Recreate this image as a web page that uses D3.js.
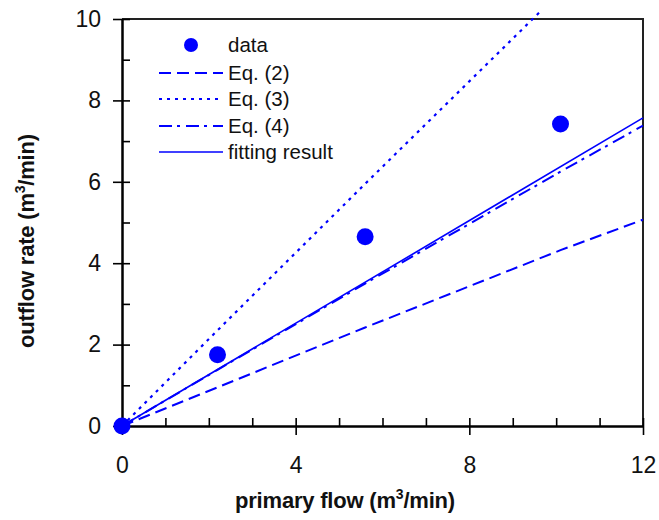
<!DOCTYPE html>
<html>
<head>
<meta charset="utf-8">
<script src="https://cdn.jsdelivr.net/npm/d3@7"></script>
<style>
  html, body { margin: 0; padding: 0; background: #fff; }
  svg { display: block; font-family: "Liberation Sans", Arial, sans-serif; }
</style>
</head>
<body>
<svg id="chart" width="659" height="520"></svg>
<script>
// Measured outflow vs. primary flow
const dataX = [0, 2.2, 5.6, 10.1];
const dataY = [0, 1.75, 4.65, 7.42];

// Model curves
const eq2X = [0, 2.2, 5.6, 10.1, 12];
const eq2Y = [0, 0.95, 2.42, 4.32, 5.07];
const eq3X = [0, 2.2, 5.6, 9.65];
const eq3Y = [0, 2.35, 5.95, 10.2];
const eq4X = [0, 2.2, 5.6, 10.1, 12];
const eq4Y = [0, 1.38, 3.5, 6.25, 7.38];
const fitX = [0, 12];
const fitY = [0, 7.57];

const xTicks = [0, 4, 8, 12];
const xMinor = [0, 1, 2, 3, 4, 5, 6, 7, 8, 9, 10, 11, 12];
const yTicks = [0, 2, 4, 6, 8, 10];
const yMinor = [0, 1, 2, 3, 4, 5, 6, 7, 8, 9, 10];

const legendLabels = ["data", "Eq. (2)", "Eq. (3)", "Eq. (4)", "fitting result"];

const blue = "#0000ff";
const svg = d3.select("#chart");
const L = 122, R = 643, T = 19, B = 426;

const x = d3.scaleLinear().domain([0, 12]).range([L, R]);
const y = d3.scaleLinear().domain([0, 10]).range([B, T]);

// Frame: top and right edges
svg.append("path")
  .attr("d", `M${L},${T}H${R}V${B}`)
  .attr("fill", "none").attr("stroke", "#222").attr("stroke-width", 2);

// Left axis: outward major ticks with labels
const yAxisOut = svg.append("g").attr("transform", `translate(${L},0)`)
  .call(d3.axisLeft(y).tickValues(yTicks).tickSize(9).tickPadding(12).tickSizeOuter(0));
// Left axis: inward ticks (major and minor)
const yAxisIn = svg.append("g").attr("transform", `translate(${L},0)`)
  .call(d3.axisRight(y).tickValues(yMinor).tickSize(8).tickFormat("").tickSizeOuter(0));

// Bottom axis
const xAxisOut = svg.append("g").attr("transform", `translate(0,${B})`)
  .call(d3.axisBottom(x).tickValues(xTicks).tickSize(9).tickPadding(22).tickSizeOuter(0));
const xAxisIn = svg.append("g").attr("transform", `translate(0,${B})`)
  .call(d3.axisTop(x).tickValues(xMinor).tickSize(8).tickFormat("").tickSizeOuter(0));

[yAxisOut, yAxisIn, xAxisOut, xAxisIn].forEach(g => {
  g.selectAll(".domain").attr("stroke", "#000").attr("stroke-width", 2);
  g.selectAll(".tick line").attr("stroke", "#000").attr("stroke-width", 1.6);
  g.selectAll(".tick text").attr("font-size", 23).attr("fill", "#111")
    .attr("font-family", "Liberation Sans, Arial, sans-serif");
});

// Axis titles
const xt = svg.append("text")
  .attr("x", 345).attr("y", 508).attr("text-anchor", "middle")
  .attr("font-size", 22).attr("font-weight", "bold").attr("fill", "#111")
  .attr("letter-spacing", -0.2);
xt.append("tspan").text("primary flow (m");
xt.append("tspan").attr("font-size", 14).attr("dy", -9).text("3");
xt.append("tspan").attr("dy", 9).text("/min)");

const yt = svg.append("text")
  .attr("transform", "translate(34,241) rotate(-90)").attr("text-anchor", "middle")
  .attr("font-size", 22).attr("font-weight", "bold").attr("fill", "#111")
  .attr("letter-spacing", -0.2);
yt.append("tspan").text("outflow rate (m");
yt.append("tspan").attr("font-size", 14).attr("dy", -9).text("3");
yt.append("tspan").attr("dy", 9).text("/min)");

// Lines
const line = d3.line().x(d => x(d[0])).y(d => y(d[1]));
const series = [
  { xs: eq2X, ys: eq2Y, dash: "12,6", w: 2 },
  { xs: eq3X, ys: eq3Y, dash: "3,5", w: 2.2 },
  { xs: eq4X, ys: eq4Y, dash: "13,5,3,6", w: 2 },
  { xs: fitX, ys: fitY, dash: null, w: 1.6 }
];
series.forEach(s => {
  svg.append("path")
    .datum(s.xs.map((v, i) => [v, s.ys[i]]))
    .attr("d", line)
    .attr("fill", "none").attr("stroke", blue)
    .attr("stroke-width", s.w)
    .attr("stroke-dasharray", s.dash);
});

// Data points
svg.append("g").selectAll("circle")
  .data(dataX.map((v, i) => [v, dataY[i]]))
  .join("circle")
  .attr("cx", d => x(d[0])).attr("cy", d => y(d[1]))
  .attr("r", 8.5).attr("fill", blue);

// Legend
const leg = svg.append("g");
const legY = [45, 73, 99, 126, 152];
leg.append("circle").attr("cx", 191).attr("cy", legY[0]).attr("r", 7).attr("fill", blue);
series.forEach((s, i) => {
  leg.append("line")
    .attr("x1", 159).attr("x2", 223).attr("y1", legY[i + 1]).attr("y2", legY[i + 1])
    .attr("stroke", blue).attr("stroke-width", s.w).attr("stroke-dasharray", s.dash);
});
legendLabels.forEach((t, i) => {
  leg.append("text").attr("x", 228).attr("y", legY[i]).attr("dy", "0.35em")
    .attr("font-size", 20.5).attr("fill", "#111").text(t);
});
</script>
</body>
</html>
